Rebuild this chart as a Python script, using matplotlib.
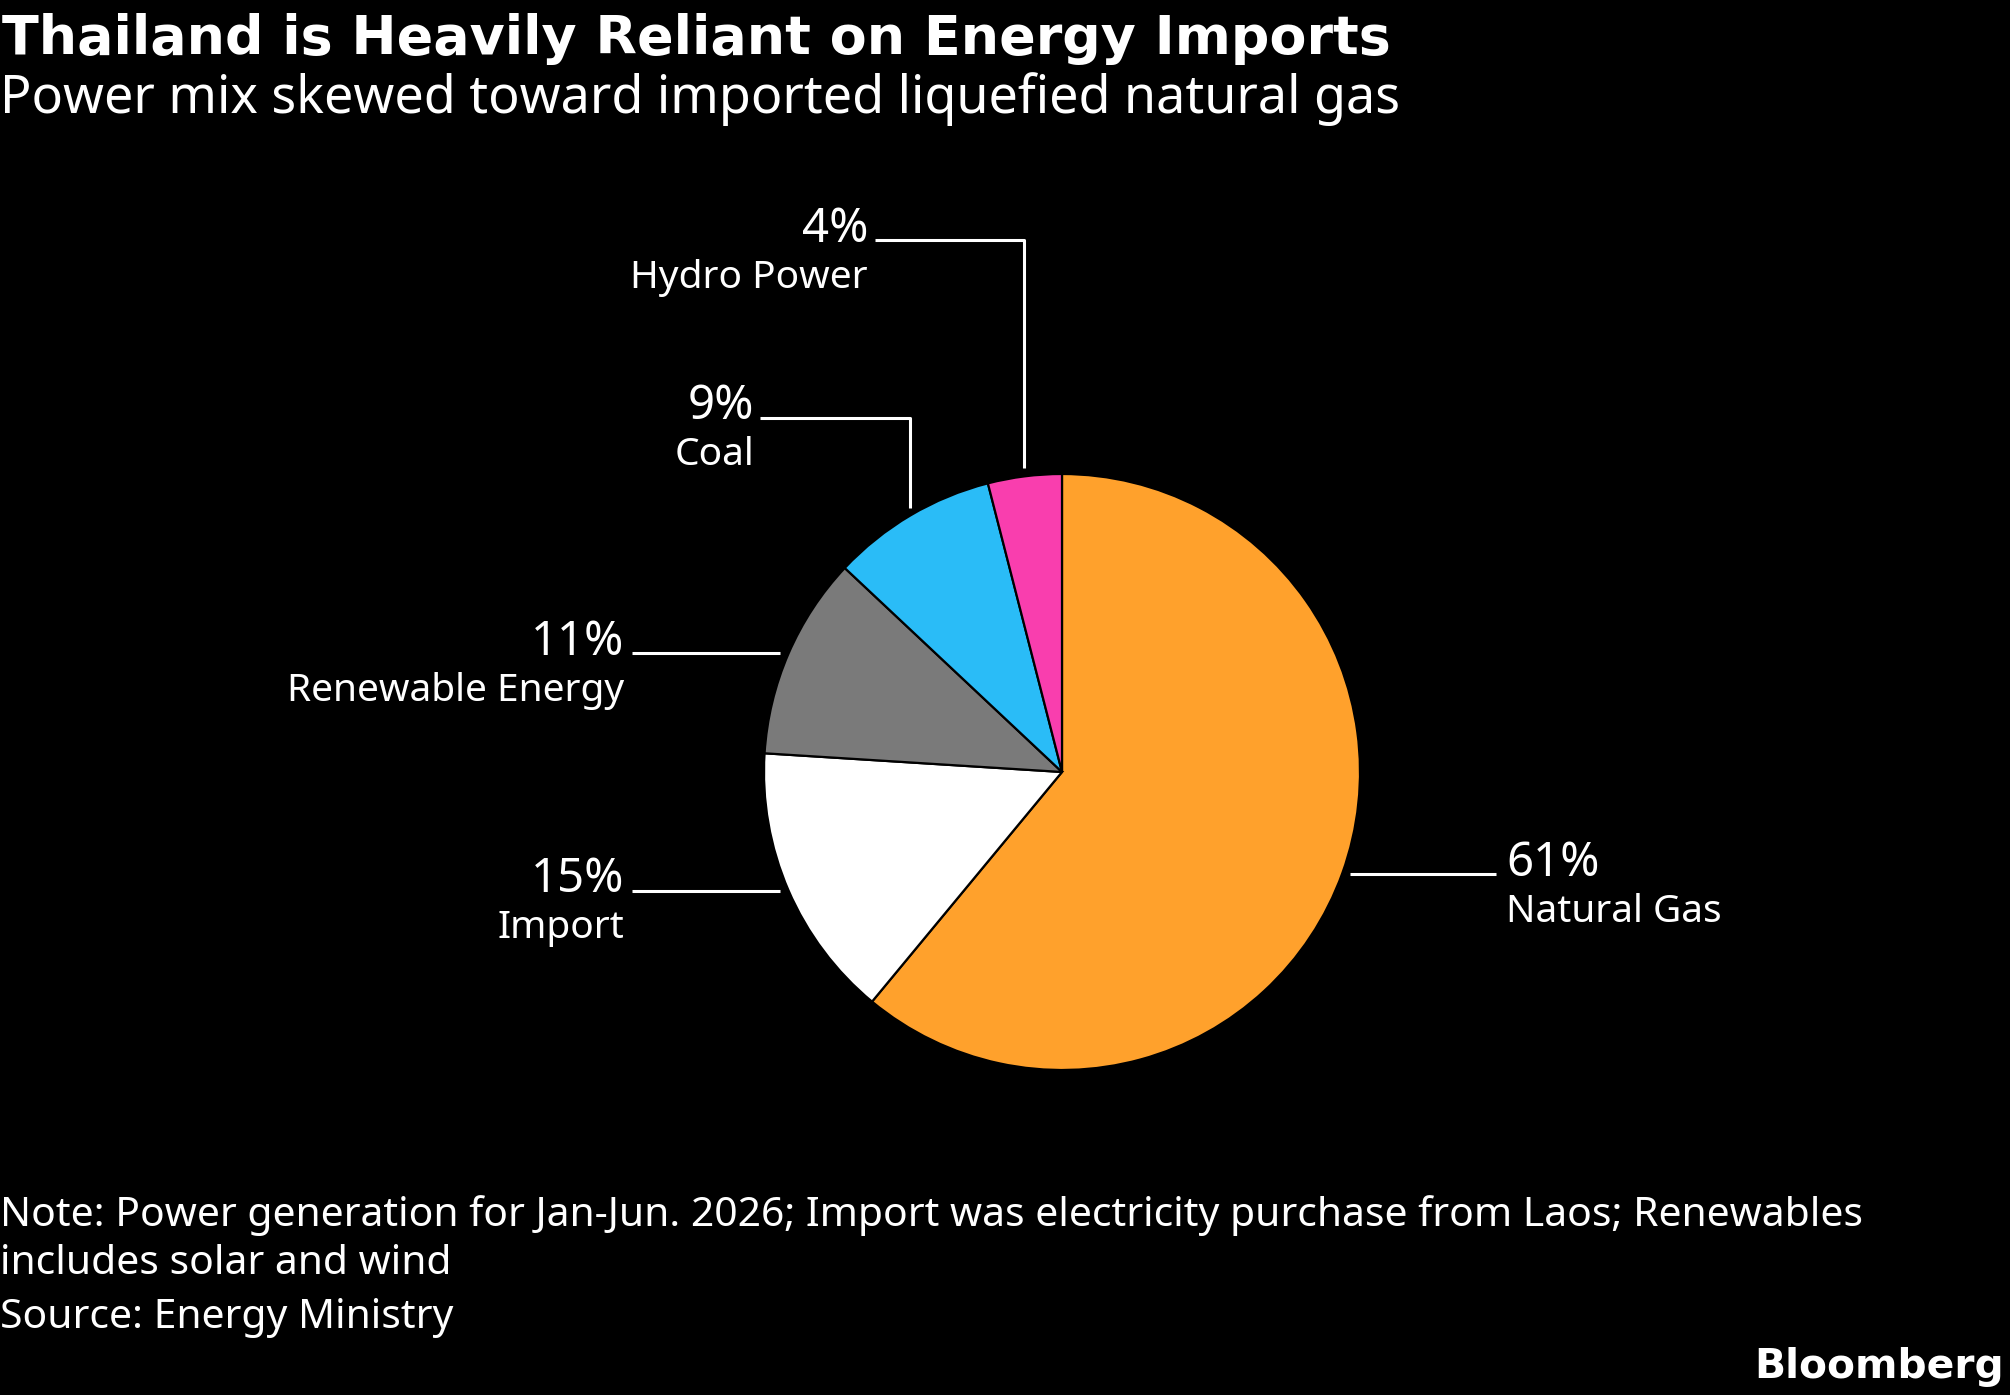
import matplotlib
matplotlib.use("Agg")
import matplotlib.pyplot as plt

# data (share of power generation, %)
sources = ["Natural Gas", "Import", "Renewable Energy", "Coal", "Hydro Power"]
shares = [61, 15, 11, 9, 4]
colors = ["#FFA12C", "#FFFFFF", "#7A7A7A", "#2ABCF7", "#F93EAE"]

title = "Thailand is Heavily Reliant on Energy Imports"
subtitle = "Power mix skewed toward imported liquefied natural gas"
note_1 = "Note: Power generation for Jan-Jun. 2026; Import was electricity purchase from Laos; Renewables"
note_2 = "includes solar and wind"
source = "Source: Energy Ministry"

W, H = 2010, 1395
plt.rcParams['font.family'] = ['Noto Sans', 'DejaVu Sans']
BOLD = ['DejaVu Sans']   # Noto Sans has no bold face installed


def fy(y):
    # layout below is measured from the top of the picture
    return H - y


# leader line points, label anchor and alignment for each slice (pixels, top based)
layout = {
    "Natural Gas": dict(line=[(1350, 874), (1496, 874)], pos=(1506, 876), ha="left"),
    "Import": dict(line=[(632, 891), (780, 891)], pos=(624, 892), ha="right"),
    "Renewable Energy": dict(line=[(632, 653), (780, 653)], pos=(624, 655), ha="right"),
    "Coal": dict(line=[(760, 418), (910, 418), (910, 508)], pos=(754, 419), ha="right"),
    "Hydro Power": dict(line=[(875, 240), (1024, 240), (1024, 468)], pos=(868, 242), ha="right"),
}

fig = plt.figure(figsize=(W / 100, H / 100), dpi=100, facecolor="black")
ax = fig.add_axes([0, 0, 1, 1])
ax.set_facecolor("black")

ax.pie(shares, colors=colors, startangle=90, counterclock=False,
       center=(1062, fy(772)), radius=298, frame=True,
       wedgeprops=dict(edgecolor="black", linewidth=1.6))

for name, val in zip(sources, shares):
    lay = layout[name]
    xs = [p[0] for p in lay["line"]]
    ys = [fy(p[1]) for p in lay["line"]]
    ax.plot(xs, ys, color="white", linewidth=2.2, solid_capstyle="butt")
    x, y = lay["pos"]
    ax.text(x, fy(y), f"{val}%", color="white", fontsize=34, ha=lay["ha"], va="baseline")
    ax.text(x, fy(y + 46), name, color="white", fontsize=28, ha=lay["ha"], va="baseline")

ax.set_xlim(0, W)
ax.set_ylim(0, H)
ax.axis("off")

# titles and footer
ax.text(2, fy(54), title, color="white", fontsize=38.8, fontweight="bold",
        family=BOLD, va="baseline")
ax.text(0, fy(113), subtitle, color="white", fontsize=37.5, va="baseline")
ax.text(0, fy(1226), note_1, color="white", fontsize=29.4, va="baseline")
ax.text(0, fy(1274), note_2, color="white", fontsize=29.4, va="baseline")
ax.text(0, fy(1328), source, color="white", fontsize=29.4, va="baseline")
ax.text(2004, fy(1378), "Bloomberg", color="white", fontsize=29.3, fontweight="bold",
        family=BOLD, ha="right", va="baseline")

fig.savefig("out.png", dpi=100, facecolor="black")
